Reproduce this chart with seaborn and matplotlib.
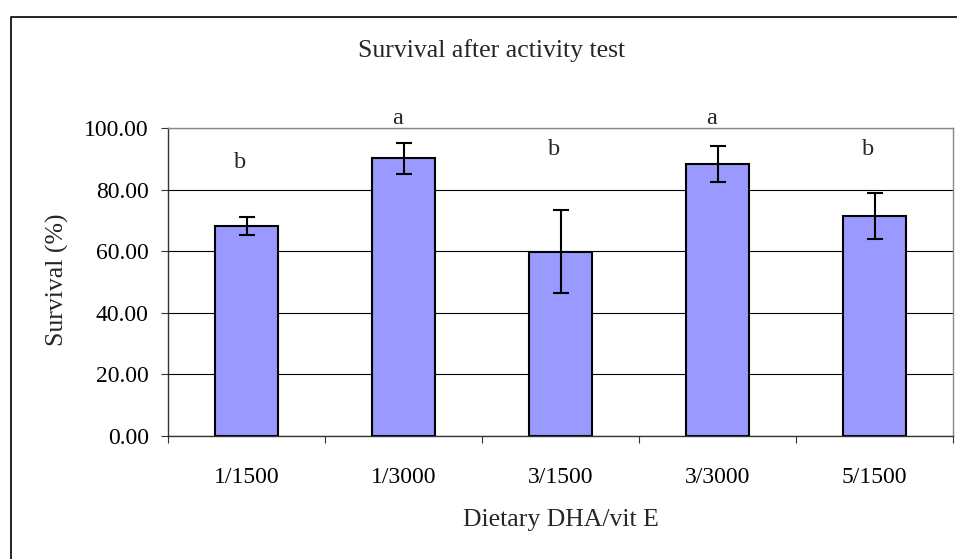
import numpy as np
import pandas as pd
import matplotlib
matplotlib.use('Agg')
import matplotlib.pyplot as plt
from matplotlib.lines import Line2D
import seaborn as sns

# values
diets = ['1/1500', '1/3000', '3/1500', '3/3000', '5/1500']
survival = [68.3, 90.2, 59.9, 88.5, 71.5]
survival_err = [3.0, 4.9, 13.4, 5.9, 7.5]
letters = ['b', 'a', 'b', 'a', 'b']
letter_y = [89.0, 103.2, 93.0, 103.2, 93.0]

df = pd.DataFrame({'diet': diets, 'survival': survival})

sns.set_theme(style='white')
plt.rcParams['font.family'] = ['Liberation Serif', 'DejaVu Serif']

W, H = 957, 559
x0, x1, y0, y1 = 168.3, 953, 436, 128.3
fig = plt.figure(figsize=(W / 100, H / 100), dpi=100)
ax = fig.add_axes([x0 / W, 1 - y0 / H, (x1 - x0) / W, (y0 - y1) / H])

sns.barplot(data=df, x='diet', y='survival', color='#9999FF', saturation=1,
            edgecolor='black', linewidth=1.5, width=0.4, errorbar=None, ax=ax)
ax.errorbar(np.arange(len(diets)), survival, yerr=survival_err, fmt='none',
            ecolor='black', elinewidth=1.5, capsize=5.5, capthick=1.5, zorder=5)

for i, (lab, ly) in enumerate(zip(letters, letter_y)):
    ax.text(i - 0.04, ly, lab, ha='center', va='center', fontsize=17.5, clip_on=False)

ax.set_ylim(0, 100)
ax.set_xlim(-0.5, len(diets) - 0.5)
ax.set_yticks(np.arange(0, 101, 20))
ax.set_yticklabels([f'{v:.2f}' for v in np.arange(0, 101, 20)])
ax.yaxis.grid(True, color='black', linewidth=0.8)
ax.set_axisbelow(True)

ax.set_xticks(np.arange(len(diets)))
ax.set_xticklabels(diets)
ax.set_xticks(np.arange(-0.5, len(diets)), minor=True)
ax.tick_params(axis='x', which='major', length=0, pad=22, labelsize=17, colors='black')
ax.tick_params(axis='x', which='minor', length=5, width=0.8, direction='out', bottom=True, color='#333333')
ax.tick_params(axis='y', which='major', length=5, width=0.8, direction='out', left=True,
               pad=9, labelsize=17, colors='black')
ax.tick_params(axis='y', which='major', color='#333333')

for side in ['left', 'bottom']:
    ax.spines[side].set_color('#333333')
    ax.spines[side].set_linewidth(1.0)
for side in ['top', 'right']:
    ax.spines[side].set_visible(True)
    ax.spines[side].set_color('#888888')
    ax.spines[side].set_linewidth(1.0)

ax.set_xlabel('Dietary DHA/vit E', fontsize=18.5)
ax.set_ylabel('Survival (%)', fontsize=18.5)
ax.xaxis.set_label_coords(0.5, -(520 - y0) / (y0 - y1))
ax.yaxis.set_label_coords(-(x0 - 57) / (x1 - x0), 0.5 - (280 - (y0 + y1) / 2) / (y0 - y1))
ax.yaxis.label.set_va('center')
ax.xaxis.label.set_va('center')

fig.text(491.5 / W, 1 - 51 / H, 'Survival after activity test',
         ha='center', va='center', fontsize=18.5)

# outer chart-area border (only left and top visible in the crop)
fig.add_artist(Line2D([11 / W, 11 / W, 1.0], [0.0, 1 - 17 / H, 1 - 17 / H],
                      transform=fig.transFigure, color='black', linewidth=1.2))

fig.savefig('out.png', dpi=100)
